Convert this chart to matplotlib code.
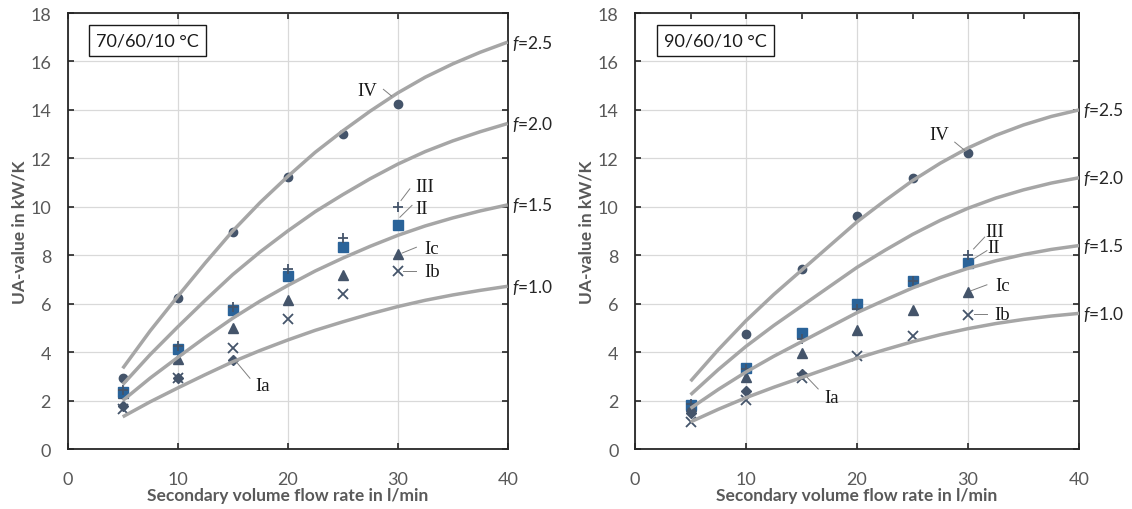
import matplotlib
matplotlib.use("Agg")
import matplotlib.pyplot as plt
from matplotlib.ticker import MultipleLocator

plt.rcParams["font.family"] = ["Lato", "DejaVu Sans"]
plt.rcParams["mathtext.fontset"] = "custom"
plt.rcParams["mathtext.rm"] = "Lato"
plt.rcParams["mathtext.it"] = "Lato:italic"

# ---- data ----
flow = [5, 10, 15, 20, 25, 30]
flow_ia = [5, 10, 15]
curve_x = [5, 7.5, 10, 12.5, 15, 17.5, 20, 22.5, 25, 27.5, 30, 32.5, 35, 37.5, 40]
f_labels = ["2.5", "2.0", "1.5", "1.0"]

# 70/60/10 °C
left_iv = [2.93, 6.22, 8.98, 11.25, 13.02, 14.25]
left_iii = [2.42, 4.25, 5.87, 7.42, 8.73, 10.0]
left_ii = [2.36, 4.15, 5.75, 7.14, 8.32, 9.25]
left_ic = [2.30, 3.70, 4.98, 6.15, 7.17, 8.05]
left_ib = [1.65, 2.95, 4.19, 5.35, 6.40, 7.35]
left_ia = [1.78, 2.95, 3.66]
left_f25 = [3.33, 4.88, 6.30, 7.68, 9.00, 10.18, 11.25, 12.25, 13.13, 13.95, 14.70, 15.35, 15.90, 16.38, 16.80]
left_f20 = [2.66, 3.90, 5.04, 6.14, 7.20, 8.14, 9.00, 9.80, 10.50, 11.16, 11.76, 12.28, 12.72, 13.10, 13.44]
left_f15 = [2.00, 2.93, 3.78, 4.61, 5.40, 6.11, 6.75, 7.35, 7.88, 8.37, 8.82, 9.21, 9.54, 9.83, 10.08]
left_f10 = [1.33, 1.95, 2.52, 3.07, 3.60, 4.07, 4.50, 4.90, 5.25, 5.58, 5.88, 6.14, 6.36, 6.55, 6.72]

# 90/60/10 °C
right_iv = [1.55, 4.75, 7.45, 9.63, 11.20, 12.23]
right_iii = [1.85, 3.30, 4.53, 5.77, 6.95, 8.02]
right_ii = [1.80, 3.36, 4.79, 5.99, 6.93, 7.69]
right_ic = [1.78, 2.97, 3.98, 4.92, 5.74, 6.47]
right_ib = [1.10, 2.04, 2.95, 3.83, 4.67, 5.55]
right_ia = [1.50, 2.41, 3.09]
right_f25 = [2.80, 4.10, 5.30, 6.38, 7.38, 8.38, 9.38, 10.25, 11.08, 11.80, 12.43, 12.95, 13.38, 13.73, 14.00]
right_f20 = [2.24, 3.28, 4.24, 5.10, 5.90, 6.70, 7.50, 8.20, 8.86, 9.44, 9.94, 10.36, 10.70, 10.98, 11.20]
right_f15 = [1.68, 2.46, 3.18, 3.83, 4.43, 5.03, 5.63, 6.15, 6.65, 7.08, 7.46, 7.77, 8.03, 8.24, 8.40]
right_f10 = [1.12, 1.64, 2.12, 2.55, 2.95, 3.35, 3.75, 4.10, 4.43, 4.72, 4.97, 5.18, 5.35, 5.49, 5.60]

# label, text x/y, leader line x0,y0,x1,y1
left_notes = [
    ("IV", 27.2, 14.80, 28.7, 14.85, 29.45, 14.57),
    ("III", 32.5, 10.85, 30.3, 10.26, 31.1, 10.74),
    ("II", 32.2, 9.92, 30.2, 9.57, 31.3, 10.06),
    ("Ic", 33.1, 8.28, 30.4, 8.09, 31.7, 8.33),
    ("Ib", 33.1, 7.33, 30.45, 7.37, 31.7, 7.37),
    ("Ia", 17.75, 2.62, 15.36, 3.58, 16.57, 2.92),
]
right_notes = [
    ("IV", 27.4, 12.99, 28.8, 12.67, 29.7, 12.33),
    ("III", 32.4, 9.0, 30.5, 8.26, 31.5, 8.75),
    ("II", 32.3, 8.30, 30.5, 7.85, 31.7, 8.19),
    ("Ic", 33.1, 6.75, 30.3, 6.54, 31.7, 6.78),
    ("Ib", 33.1, 5.55, 30.5, 5.58, 31.7, 5.58),
    ("Ia", 17.7, 2.14, 15.5, 2.96, 16.5, 2.48),
]

DARK = "#44546A"
BLUE = "#2A6399"
CURVE = "#A6A6A6"
TXT = "#595959"


def draw_panel(ax, title, iv, iii, ii, ic, ib, ia, curves, notes, top_minor):
    ax.plot(flow, ib, "x", color=DARK, ms=7, mew=1.3, zorder=3)
    ax.plot(flow_ia, ia, "D", color=DARK, ms=5, zorder=3)
    ax.plot(flow, ic, "^", color=DARK, ms=6.5, zorder=3)
    ax.plot(flow, ii, "s", color=BLUE, ms=6.5, zorder=3)
    ax.plot(flow, iii, "+", color=DARK, ms=7.5, mew=1.3, zorder=3)
    ax.plot(flow, iv, "o", color=DARK, ms=6, zorder=3)

    for vals, lab in zip(curves, f_labels):
        ax.plot(curve_x, vals, color=CURVE, lw=2.5, zorder=4, solid_capstyle="butt")
        ax.text(40.4, vals[-1], r"$f$=" + lab, fontsize=12.5, color="#262626",
                va="center", ha="left", clip_on=False)

    for lab, tx, ty, x0, y0, x1, y1 in notes:
        ax.plot([x0, x1], [y0, y1], color="#7F7F7F", lw=0.7, zorder=5)
        ax.text(tx, ty, lab, fontsize=13.5, family="Liberation Serif", color="#1a1a1a",
                ha="center", va="center", zorder=6)

    ax.text(2.6, 16.86, title, fontsize=13, color="#1a1a1a", va="center", ha="left",
            bbox=dict(boxstyle="square,pad=0.4", fc="white", ec="#1a1a1a", lw=1.0))

    ax.set_xlim(0, 40)
    ax.set_ylim(0, 18)
    ax.xaxis.set_major_locator(MultipleLocator(10))
    ax.yaxis.set_major_locator(MultipleLocator(2))
    ax.grid(True, which="major", color="#D9D9D9", lw=0.9, zorder=0)
    ax.set_axisbelow(True)
    for s in ax.spines.values():
        s.set_color("#262626")
        s.set_linewidth(1.3)
    ax.tick_params(direction="in", top=True, right=True, length=4, width=1.2,
                   color="#262626", labelsize=13, labelcolor=TXT)
    ax.tick_params(axis="x", pad=16)
    ax.tick_params(axis="y", pad=12)
    if top_minor:
        ax.xaxis.set_minor_locator(MultipleLocator(5))
        ax.tick_params(axis="x", which="minor", direction="in", top=True, bottom=False,
                       length=4, width=1.2, color="#262626")
    ax.set_xlabel("Secondary volume flow rate in l/min", fontsize=12.5,
                  fontweight="bold", color=TXT, labelpad=0)
    ax.set_ylabel("UA-value in kW/K", fontsize=12.5, fontweight="bold",
                  color=TXT, labelpad=2)


fig = plt.figure(figsize=(11.32, 5.10), dpi=100)
ax1 = fig.add_axes([0.0598, 0.1176, 0.3887, 0.8549])
ax2 = fig.add_axes([0.5610, 0.1176, 0.3922, 0.8549])

draw_panel(ax1, "70/60/10 °C", left_iv, left_iii, left_ii, left_ic, left_ib, left_ia,
           [left_f25, left_f20, left_f15, left_f10], left_notes, False)
draw_panel(ax2, "90/60/10 °C", right_iv, right_iii, right_ii, right_ic, right_ib, right_ia,
           [right_f25, right_f20, right_f15, right_f10], right_notes, True)

fig.savefig("out.png", dpi=100)
